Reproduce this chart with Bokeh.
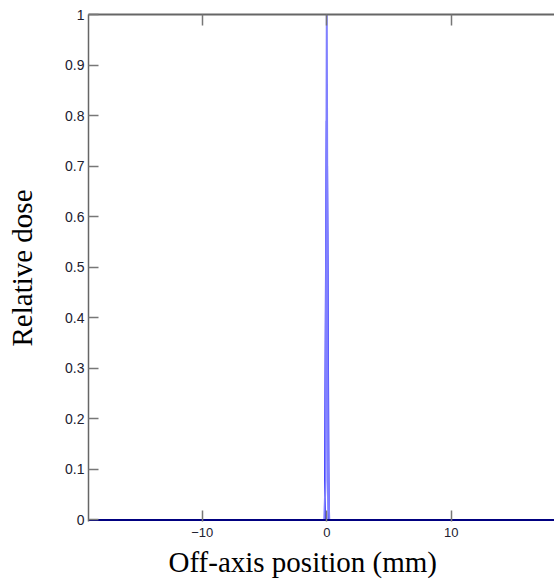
from bokeh.plotting import figure
from bokeh.models import Range1d, LinearAxis, FixedTicker, Title
from bokeh.embed import file_html
from bokeh.resources import INLINE

# ---- data ----
x_ticks = [-10, 0, 10]
y_ticks = [0, 0.1, 0.2, 0.3, 0.4, 0.5, 0.6, 0.7, 0.8, 0.9, 1.0]
y_tick_labels = ["0", "0.1", "0.2", "0.3", "0.4", "0.5", "0.6", "0.7", "0.8", "0.9", "1"]

# profile 1 (light blue)
pos_a = [-20.0, -0.2, -0.1, 0.0, 0.1, 0.2, 20.0]
dose_a = [0.0, 0.0, 0.08, 1.0, 0.08, 0.0, 0.0]
# profile 2 (blue)
pos_b = [-20.0, -0.15, -0.05, 0.0, 0.05, 0.15, 20.0]
dose_b = [0.0, 0.0, 0.57, 0.79, 0.57, 0.0, 0.0]
# profile 3 (dark navy, flat)
pos_c = [-20.0, -0.3, 0.3, 20.0]
dose_c = [0.0, 0.0, 0.0, 0.0]

x_label = "Off-axis position (mm)"
y_label = "Relative dose"

p = figure(width=554, height=582, output_backend="svg", toolbar_location=None,
           x_range=Range1d(-19.14, 18.29), y_range=Range1d(-0.003, 1.0),
           min_border_left=88, min_border_right=0, min_border_top=14, min_border_bottom=61)
p.outline_line_color = None
p.xgrid.visible = False
p.ygrid.visible = False
p.background_fill_color = "white"
p.border_fill_color = "white"

p.line(pos_b, dose_b, line_color="#0000ff", line_width=2)
p.line(pos_a, dose_a, line_color="#8080ff", line_width=2)
p.line(pos_c, dose_c, line_color="#000080", line_width=2)

axis_col = "#666666"
tick_col = "#777777"
lab_col = "#202030"

# left axis
ya = p.yaxis[0]
ya.ticker = FixedTicker(ticks=y_ticks)
ya.major_label_overrides = {t: l for t, l in zip(y_ticks, y_tick_labels)}
ya.minor_tick_line_color = None
ya.major_tick_in = 10
ya.major_tick_out = 0
ya.major_tick_line_color = tick_col
ya.major_tick_line_width = 1.5
ya.axis_line_color = axis_col
ya.axis_line_width = 1.5
ya.major_label_text_font = "Liberation Sans"
ya.major_label_text_font_size = "14px"
ya.major_label_text_color = lab_col
ya.major_label_standoff = 4
ya.axis_label = y_label
ya.axis_label_text_font = "Liberation Serif"
ya.axis_label_text_font_size = "29px"
ya.axis_label_text_font_style = "normal"
ya.axis_label_text_color = "black"
ya.axis_label_standoff = 24

# bottom axis
xa = p.xaxis[0]
xa.ticker = FixedTicker(ticks=x_ticks)
xa.minor_tick_line_color = None
xa.major_tick_in = 11
xa.major_tick_out = 0
xa.major_tick_line_color = tick_col
xa.major_tick_line_width = 1.5
xa.axis_line_color = None
xa.major_label_text_font = "Liberation Sans"
xa.major_label_text_font_size = "13px"
xa.major_label_text_color = lab_col
xa.major_label_standoff = 6

# top axis (frame border with inward ticks, no labels)
top = LinearAxis(ticker=FixedTicker(ticks=x_ticks))
top.minor_tick_line_color = None
top.major_tick_in = 11
top.major_tick_out = 0
top.major_tick_line_color = tick_col
top.major_tick_line_width = 1.5
top.axis_line_color = axis_col
top.axis_line_width = 2
top.major_label_text_font_size = "0px"
top.major_label_text_color = None
top.major_label_standoff = 0
p.add_layout(top, "above")

# x-axis label
p.add_layout(Title(text=x_label, align="left", offset=80,
                   text_font="Liberation Serif", text_font_size="29px",
                   text_line_height=0.9,
                   text_font_style="normal", text_color="black", standoff=8), "below")

open("out.html", "w").write(file_html(p, INLINE))
